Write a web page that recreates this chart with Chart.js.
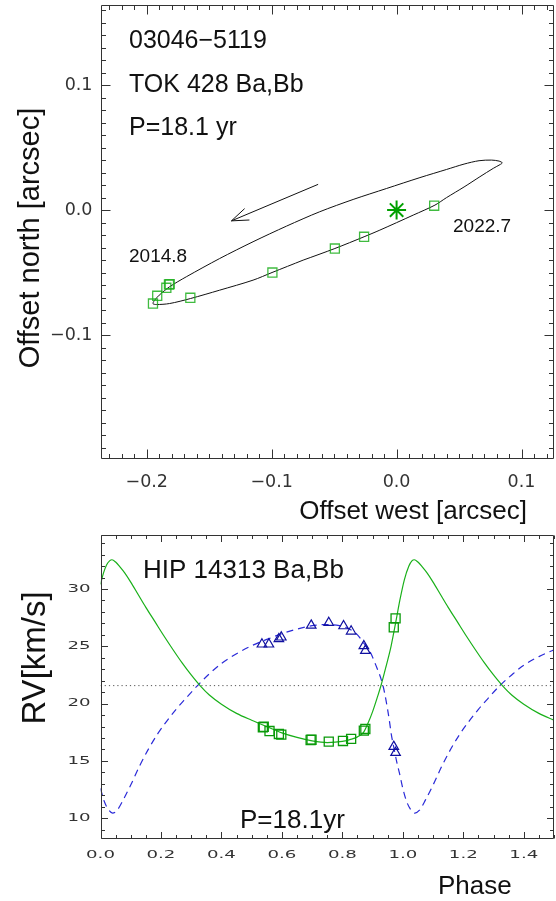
<!DOCTYPE html>
<html>
<head>
<meta charset="utf-8">
<script src="https://cdn.jsdelivr.net/npm/chart.js@4.4.1/dist/chart.umd.min.js"></script>
<style>
  html, body { margin: 0; padding: 0; background: #fff; overflow: hidden; }
  #wrap { position: relative; width: 556px; height: 901px; background: #fff; }
  canvas { position: absolute; left: 0; }
  #orbit { top: 0; width: 556px; height: 530px; }
  #rv { top: 530px; width: 556px; height: 371px; }
</style>
</head>
<body>
<div id="wrap">
  <canvas id="orbit" width="556" height="530"></canvas>
  <canvas id="rv" width="556" height="371"></canvas>
</div>
<script>
// ---------- Visual orbit of TOK 428 Ba,Bb (arcsec) ----------
const orbitWest = [-0.0748, -0.0494, -0.0260, -0.0134, 0.0133, 0.0307, 0.0400, 0.0540, 0.0667, 0.0774,
  0.0830, 0.0846, 0.0820, 0.0760, 0.0660, 0.0540, 0.0400, 0.0187, -0.0080, -0.0348,
  -0.0615, -0.0881, -0.1149, -0.1416, -0.1683, -0.1817, -0.1900, -0.1940, -0.1950, -0.1923,
  -0.1817, -0.1650, -0.1416, -0.1149, -0.0997, -0.0748];
const orbitNorth = [-0.0400, -0.0307, -0.0213, -0.0160, -0.0040, 0.0040, 0.0100, 0.0185, 0.0267, 0.0334,
  0.0365, 0.0378, 0.0392, 0.0400, 0.0395, 0.0368, 0.0325, 0.0260, 0.0173, 0.0085,
  -0.0013, -0.0128, -0.0253, -0.0387, -0.0533, -0.0613, -0.0680, -0.0725, -0.0748, -0.0755,
  -0.0747, -0.0707, -0.0640, -0.0560, -0.0499, -0.0400];

// Measured positions of Bb relative to Ba
const measWest  = [-0.1950, -0.1916, -0.1843, -0.1822, -0.1816, -0.1651, -0.0994, -0.0494, -0.0260, 0.0301];
const measNorth = [-0.0747, -0.0685, -0.0621, -0.0595, -0.0592, -0.0701, -0.0499, -0.0307, -0.0213, 0.0035];

// Primary at the origin and the direction-of-motion arrow (tail, head)
const primaryPos = [0.0, 0.0];
const arrowWest  = [-0.0628, -0.1322];
const arrowNorth = [0.0206, -0.0086];

const westTicks  = [-0.2, -0.1, 0.0, 0.1];
const northTicks = [-0.1, 0.0, 0.1];
const westRange  = [-0.237, 0.126];
const northRange = [-0.199, 0.164];

// ---------- Radial velocities of HIP 14313 Ba,Bb ----------
const phaseRange = [0.0, 1.5];
const systemicRV = 21.57;

const curveAPhase = [0.000, 0.010, 0.020, 0.030, 0.038, 0.050, 0.065, 0.080, 0.100, 0.125,
  0.150, 0.180, 0.210, 0.240, 0.270, 0.300, 0.330, 0.360, 0.400, 0.450,
  0.500, 0.550, 0.600, 0.650, 0.700, 0.750, 0.800, 0.830, 0.850, 0.870,
  0.885, 0.900, 0.915, 0.928, 0.945, 0.961, 0.978, 0.990, 1.005, 1.020,
  1.030, 1.038, 1.050, 1.065, 1.080, 1.100, 1.125, 1.150, 1.180, 1.210,
  1.240, 1.270, 1.300, 1.330, 1.360, 1.400, 1.450, 1.500];
const curveARV = [30.4, 31.4, 32.1, 32.45, 32.55, 32.35, 31.9, 31.4, 30.6, 29.5,
  28.4, 27.15, 25.9, 24.7, 23.55, 22.5, 21.55, 20.75, 19.95, 19.15,
  18.55, 18.0, 17.45, 17.05, 16.75, 16.6, 16.7, 16.9, 17.1, 17.5,
  18.3, 19.3, 20.5, 21.6, 23.3, 25.0, 27.3, 29.0, 30.8, 32.0,
  32.45, 32.55, 32.35, 31.9, 31.4, 30.6, 29.5, 28.4, 27.15, 25.9,
  24.7, 23.55, 22.5, 21.55, 20.75, 19.95, 19.15, 18.55];

const curveBPhase = [0.000, 0.012, 0.025, 0.040, 0.055, 0.075, 0.100, 0.130, 0.160, 0.190,
  0.220, 0.250, 0.280, 0.320, 0.360, 0.400, 0.450, 0.500, 0.550, 0.600,
  0.650, 0.700, 0.750, 0.790, 0.820, 0.850, 0.870, 0.890, 0.910, 0.934,
  0.945, 0.955, 0.962, 0.970, 0.980, 0.990, 1.000, 1.012, 1.025, 1.040,
  1.055, 1.075, 1.100, 1.130, 1.160, 1.190, 1.220, 1.250, 1.280, 1.320,
  1.360, 1.400, 1.450, 1.500];
const curveBRV = [12.6, 11.5, 10.8, 10.45, 10.7, 11.6, 12.9, 14.6, 16.1, 17.4,
  18.5, 19.5, 20.4, 21.55, 22.6, 23.5, 24.35, 25.05, 25.6, 26.1,
  26.5, 26.8, 26.9, 26.8, 26.55, 26.0, 25.3, 24.6, 23.4, 21.6,
  20.2, 18.6, 17.3, 16.2, 14.9, 13.8, 12.6, 11.5, 10.8, 10.45,
  10.7, 11.6, 12.9, 14.6, 16.1, 17.4, 18.5, 19.5, 20.4, 21.55,
  22.5, 23.35, 24.1, 24.7];

const obsAPhase = [0.537, 0.540, 0.559, 0.590, 0.598, 0.695, 0.698, 0.755, 0.802, 0.829, 0.871, 0.876, 0.970, 0.976];
const obsARV    = [17.94, 17.98, 17.61, 17.35, 17.29, 16.83, 16.85, 16.68, 16.74, 16.92, 17.64, 17.79, 26.66, 27.44];
const obsBPhase = [0.534, 0.557, 0.590, 0.598, 0.697, 0.755, 0.804, 0.829, 0.871, 0.876, 0.970, 0.976];
const obsBRV    = [25.18, 25.18, 25.64, 25.79, 26.83, 27.06, 26.77, 26.31, 25.03, 24.62, 16.25, 15.72];

const phaseTicks = [0.0, 0.2, 0.4, 0.6, 0.8, 1.0, 1.2, 1.4];
const rvTicks = [10, 15, 20, 25, 30];
const rvRange = [8.19, 34.71];

// ---------- helpers ----------
const toXY = (xs, ys) => xs.map((v, i) => ({ x: v, y: ys[i] }));
const withMinus = s => s.replace('-', '\u2212');

// Frame with inward major/minor ticks on all four sides
const frameTicks = {
  id: 'frameTicks',
  afterDatasetsDraw(chart, args, o) {
    const { ctx, chartArea: a } = chart;
    const xs = chart.scales.x, ys = chart.scales.y;
    const L = Math.round(a.left) + 0.5, R = Math.round(a.right) - 0.5;
    const T = Math.round(a.top) + 0.5, B = Math.round(a.bottom) - 0.5;
    ctx.save();
    ctx.strokeStyle = o.color;
    ctx.lineWidth = 1;
    ctx.beginPath();
    ctx.rect(L, T, R - L, B - T);
    const walk = (scale, minor, major, fn) => {
      const i0 = Math.ceil(scale.min / minor - 1e-9);
      const i1 = Math.floor(scale.max / minor + 1e-9);
      for (let i = i0; i <= i1; i++) {
        const v = i * minor;
        const r = v / major;
        const isMajor = Math.abs(r - Math.round(r)) < 1e-6;
        fn(Math.round(scale.getPixelForValue(v)) + 0.5, isMajor ? o.majorLen : o.minorLen);
      }
    };
    walk(xs, o.xMinor, o.xMajor, (p, len) => {
      ctx.moveTo(p, B); ctx.lineTo(p, B - len);
      ctx.moveTo(p, T); ctx.lineTo(p, T + len);
    });
    walk(ys, o.yMinor, o.yMajor, (p, len) => {
      ctx.moveTo(L, p); ctx.lineTo(L + len, p);
      ctx.moveTo(R, p); ctx.lineTo(R - len, p);
    });
    ctx.stroke();
    ctx.restore();
  }
};

// Free text (titles, annotations)
const textLayer = {
  id: 'textLayer',
  afterDraw(chart, args, o) {
    const ctx = chart.ctx;
    for (const t of o.items) {
      ctx.save();
      ctx.font = t.font;
      ctx.fillStyle = t.color || '#111';
      ctx.textAlign = t.align || 'left';
      ctx.textBaseline = t.baseline || 'alphabetic';
      ctx.translate(t.x, t.y);
      if (t.rotate) ctx.rotate(t.rotate);
      ctx.fillText(t.text, 0, 0);
      ctx.restore();
    }
  }
};

// Open arrowhead at the end of the motion arrow
const arrowHead = {
  id: 'arrowHead',
  afterDatasetsDraw(chart, args, o) {
    const { ctx, scales: { x, y } } = chart;
    const x0 = x.getPixelForValue(arrowWest[0]), y0 = y.getPixelForValue(arrowNorth[0]);
    const x1 = x.getPixelForValue(arrowWest[1]), y1 = y.getPixelForValue(arrowNorth[1]);
    const back = Math.atan2(y0 - y1, x0 - x1);
    ctx.save();
    ctx.strokeStyle = '#111';
    ctx.lineWidth = 1;
    ctx.beginPath();
    [-1, 1].forEach(s => {
      const ang = back + s * o.spread;
      ctx.moveTo(x1, y1);
      ctx.lineTo(x1 + o.len * Math.cos(ang), y1 + o.len * Math.sin(ang));
    });
    ctx.stroke();
    ctx.restore();
  }
};

// Wide, light tick labels of the RV panel
const stretchedTicks = {
  id: 'stretchedTicks',
  afterDraw(chart, args, o) {
    const { ctx, chartArea: a, scales: { x, y } } = chart;
    ctx.save();
    ctx.font = o.font;
    ctx.fillStyle = o.color;
    ctx.textBaseline = 'middle';
    x.ticks.forEach(t => {
      ctx.save();
      ctx.translate(x.getPixelForValue(t.value), a.bottom + o.xGap);
      ctx.scale(o.sx, 1);
      ctx.textAlign = 'center';
      ctx.fillText(t.value.toFixed(1), 0, 0);
      ctx.restore();
    });
    y.ticks.forEach(t => {
      ctx.save();
      ctx.translate(a.left - o.yGap, y.getPixelForValue(t.value));
      ctx.scale(o.sx, 1);
      ctx.textAlign = 'right';
      ctx.fillText(String(t.value), 0, 0);
      ctx.restore();
    });
    ctx.restore();
  }
};

Chart.defaults.font.family = "'Liberation Sans', Arial, sans-serif";

const fixedTicks = list => scale => { scale.ticks = list.map(v => ({ value: v })); };
// Fixed axis thickness, and no extra room reserved for edge labels
const fixX = h => s => { s.height = h; s.paddingLeft = 0; s.paddingRight = 0; };
const fixY = w => s => { s.width = w; s.paddingTop = 0; s.paddingBottom = 0; };

// ---------- top panel: orbit ----------
new Chart(document.getElementById('orbit'), {
  type: 'scatter',
  data: {
    datasets: [
      {
        data: toXY(orbitWest, orbitNorth), showLine: true, tension: 0.3,
        borderColor: '#111', borderWidth: 1, pointRadius: 0, fill: false, order: 3
      },
      {
        data: toXY(arrowWest, arrowNorth), showLine: true, tension: 0,
        borderColor: '#111', borderWidth: 1, pointRadius: 0, fill: false, order: 3
      },
      {
        data: toXY(measWest, measNorth), showLine: false, pointStyle: 'rect',
        pointRadius: 6.4, borderColor: 'rgba(30,175,30,0.85)', backgroundColor: 'rgba(0,0,0,0)',
        borderWidth: 1.3, order: 1
      },
      {
        data: [{ x: primaryPos[0], y: primaryPos[1] }], showLine: false, pointStyle: 'star',
        pointRadius: 9.5, borderColor: '#00a000', backgroundColor: '#00a000', borderWidth: 2, order: 1
      }
    ]
  },
  options: {
    responsive: false,
    animation: false,
    events: [],
    layout: { autoPadding: false, padding: { left: 0, top: 5, right: 2, bottom: 0 } },
    scales: {
      x: {
        type: 'linear', min: westRange[0], max: westRange[1],
        afterBuildTicks: fixedTicks(westTicks),
        afterFit: fixX(71),
        grid: { display: false, drawTicks: false },
        border: { display: false },
        ticks: {
          padding: 13, color: '#333', font: { family: 'DejaVu Sans', size: 17.5 },
          callback: v => withMinus(Number(v).toFixed(1)), maxRotation: 0
        }
      },
      y: {
        type: 'linear', min: northRange[0], max: northRange[1],
        afterBuildTicks: fixedTicks(northTicks),
        afterFit: fixY(100.5),
        grid: { display: false, drawTicks: false },
        border: { display: false },
        ticks: {
          padding: 8, color: '#333', font: { family: 'DejaVu Sans', size: 17.5 },
          callback: v => withMinus(Number(v).toFixed(1))
        }
      }
    },
    plugins: {
      legend: { display: false },
      tooltip: { enabled: false },
      frameTicks: { color: '#333', xMinor: 0.01, xMajor: 0.1, yMinor: 0.01, yMajor: 0.1, majorLen: 9, minorLen: 4.5 },
      arrowHead: { len: 18, spread: 0.35 },
      textLayer: {
        items: [
          { text: '03046\u22125119', x: 129, y: 48, font: "25px 'Liberation Sans'" },
          { text: 'TOK 428 Ba,Bb', x: 129, y: 92, font: "25px 'Liberation Sans'" },
          { text: 'P=18.1 yr', x: 129, y: 135, font: "25px 'Liberation Sans'" },
          { text: '2014.8', x: 129, y: 262, font: "19px 'Liberation Sans'" },
          { text: '2022.7', x: 453, y: 232, font: "19px 'Liberation Sans'" },
          { text: 'Offset west [arcsec]', x: 527, y: 519, align: 'right', font: "26px 'Liberation Sans'" },
          { text: 'Offset north [arcsec]', x: 31, y: 238, align: 'center', baseline: 'middle',
            rotate: -Math.PI / 2, font: "29px 'Liberation Sans'" }
        ]
      }
    }
  },
  plugins: [frameTicks, arrowHead, textLayer]
});

// ---------- bottom panel: radial velocity curve ----------
new Chart(document.getElementById('rv'), {
  type: 'scatter',
  data: {
    datasets: [
      {
        data: [{ x: phaseRange[0], y: systemicRV }, { x: phaseRange[1], y: systemicRV }],
        showLine: true, borderColor: '#555', borderWidth: 1, borderDash: [1.2, 3],
        pointRadius: 0, order: 4
      },
      {
        data: toXY(curveAPhase, curveARV), showLine: true, cubicInterpolationMode: 'monotone',
        borderColor: '#19b019', borderWidth: 1.2, pointRadius: 0, order: 3
      },
      {
        data: toXY(curveBPhase, curveBRV), showLine: true, cubicInterpolationMode: 'monotone',
        borderColor: '#2a2ad8', borderWidth: 1.2, borderDash: [7, 5], pointRadius: 0, order: 3
      },
      {
        data: toXY(obsAPhase, obsARV), showLine: false, pointStyle: 'rect', pointRadius: 6.4,
        borderColor: '#0a9a0a', backgroundColor: 'rgba(0,0,0,0)', borderWidth: 1.3, order: 1
      },
      {
        data: toXY(obsBPhase, obsBRV), showLine: false, pointStyle: 'triangle', pointRadius: 5.5,
        borderColor: '#1010a0', backgroundColor: 'rgba(0,0,0,0)', borderWidth: 1.2, order: 1
      }
    ]
  },
  options: {
    responsive: false,
    animation: false,
    events: [],
    layout: { autoPadding: false, padding: { left: 0, top: 5, right: 2, bottom: 0 } },
    scales: {
      x: {
        type: 'linear', min: phaseRange[0], max: phaseRange[1],
        afterBuildTicks: fixedTicks(phaseTicks),
        afterFit: fixX(62),
        grid: { display: false, drawTicks: false },
        border: { display: false },
        ticks: { display: false }
      },
      y: {
        type: 'linear', min: rvRange[0], max: rvRange[1],
        afterBuildTicks: fixedTicks(rvTicks),
        afterFit: fixY(100.5),
        grid: { display: false, drawTicks: false },
        border: { display: false },
        ticks: { display: false }
      }
    },
    plugins: {
      legend: { display: false },
      tooltip: { enabled: false },
      frameTicks: { color: '#333', xMinor: 0.05, xMajor: 0.2, yMinor: 1, yMajor: 5, majorLen: 6.5, minorLen: 3.5 },
      stretchedTicks: { font: "11px 'DejaVu Sans'", color: '#333', sx: 1.65, xGap: 16, yGap: 10 },
      textLayer: {
        items: [
          { text: 'HIP 14313 Ba,Bb', x: 143, y: 48, font: "26px 'Liberation Sans'" },
          { text: 'P=18.1yr', x: 240, y: 298, font: "26px 'Liberation Sans'" },
          { text: 'Phase', x: 438, y: 364, font: "26px 'Liberation Sans'" },
          { text: 'RV[km/s]', x: 36, y: 128, align: 'center', baseline: 'middle',
            rotate: -Math.PI / 2, font: "33px 'Liberation Sans'" }
        ]
      }
    }
  },
  plugins: [frameTicks, stretchedTicks, textLayer]
});
</script>
</body>
</html>
